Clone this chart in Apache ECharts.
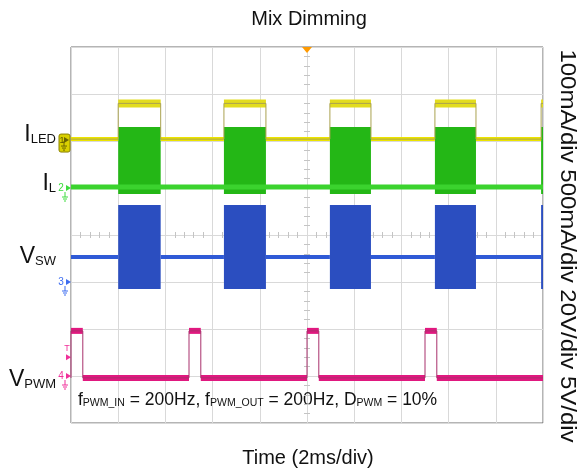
<!DOCTYPE html>
<html>
<head>
<meta charset="utf-8">
<script src="https://cdn.jsdelivr.net/npm/echarts@6.0.0/dist/echarts.min.js"></script>
<style>
html,body{margin:0;padding:0;background:#fff;}
#chart{width:583px;height:473px;}
</style>
</head>
<body>
<div id="chart"></div>
<script>
// ---- data: time in ms relative to trigger (2 ms/div), vertical in divisions from centre ----
const timeRange = [-10, 10];
const divRange = [-4, 4];

// LED-on windows shared by I_LED, I_L and V_SW (ms)
const ledOnStart = [-8.00, -3.52, 0.97, 5.42, 9.92];
const ledOnEnd   = [-6.20, -1.74, 2.71, 7.16, 10.00];

// I_LED levels (div)
const iledLow = 2.04;
const iledHigh = 2.80;
// I_L: baseline and switching-ripple envelope while on (div)
const ilBase = 1.02;
const ilRipple = [0.87, 2.30];
// V_SW: baseline and switching envelope while on (div)
const vswBase = -0.47;
const vswRipple = [-1.15, 0.64];
// V_PWM: on windows (ms) and levels (div)
const pwmOnStart = [-10.00, -5.00, 0.00, 5.00];
const pwmOnEnd   = [-9.50, -4.50, 0.50, 5.50];
const vpwmLow = -3.04;
const vpwmHigh = -2.04;

// channel reference markers (div)
const channelNames = ['1', '2', '3', '4'];
const channelOffsets = [2.02, 1.00, -1.00, -3.00];
const triggerLevel = -2.60;
const triggerTime = 0;

// texts
const titleText = 'Mix Dimming';
const xAxisTitle = 'Time (2ms/div)';
const scaleText = '100mA/div 500mA/div 20V/div 5V/div';
const traceNames = [['I', 'LED'], ['I', 'L'], ['V', 'SW'], ['V', 'PWM']];
const noteText = '{m|f}{s|PWM_IN}{m| = 200Hz, f}{s|PWM_OUT}{m| = 200Hz, D}{s|PWM}{m| = 10%}';

// ---- helpers ----
const FONT = '"Liberation Sans", Arial, Helvetica, sans-serif';

function onSpans(starts, ends) { return starts.map((s, i) => [s, ends[i]]); }
function offSpans(starts, ends) {
  const spans = [];
  let t = timeRange[0];
  for (let i = 0; i < starts.length; i++) {
    if (starts[i] > t) spans.push([t, starts[i]]);
    t = ends[i];
  }
  if (t < timeRange[1]) spans.push([t, timeRange[1]]);
  return spans;
}
function stepPoints(starts, ends, lo, hi) {
  const pts = [];
  if (starts[0] > timeRange[0]) pts.push([timeRange[0], lo]);
  for (let i = 0; i < starts.length; i++) {
    pts.push([starts[i], lo], [starts[i], hi], [ends[i], hi]);
    if (ends[i] < timeRange[1]) pts.push([ends[i], lo]);
  }
  if (ends[ends.length - 1] < timeRange[1]) pts.push([timeRange[1], lo]);
  return pts;
}
function bandSeries(spans, level, thickness, color) {
  return {
    type: 'custom', coordinateSystem: 'cartesian2d', xAxisIndex: 0, yAxisIndex: 0,
    silent: true, animation: false,
    data: spans.map(s => [s[0], s[1], level]),
    encode: { x: [0, 1], y: 2 },
    renderItem(params, api) {
      const a = api.coord([api.value(0), api.value(2)]);
      const b = api.coord([api.value(1), api.value(2)]);
      return { type: 'rect', shape: { x: a[0], y: a[1] - thickness / 2, width: b[0] - a[0], height: thickness }, style: { fill: color } };
    }
  };
}
function blockSeries(spans, lo, hi, color) {
  return {
    type: 'custom', coordinateSystem: 'cartesian2d', xAxisIndex: 0, yAxisIndex: 0,
    silent: true, animation: false,
    data: spans.map(s => [s[0], s[1], lo, hi]),
    encode: { x: [0, 1], y: [2, 3] },
    renderItem(params, api) {
      const a = api.coord([api.value(0), api.value(3)]);
      const b = api.coord([api.value(1), api.value(2)]);
      return { type: 'rect', shape: { x: a[0], y: a[1], width: b[0] - a[0], height: b[1] - a[1] }, style: { fill: color } };
    }
  };
}
function edgeSeries(points, color) {
  return {
    type: 'line', xAxisIndex: 0, yAxisIndex: 0, data: points, symbol: 'none', silent: true,
    animation: false, lineStyle: { width: 1, color: color }
  };
}

const chart = echarts.init(document.getElementById('chart'), null, { renderer: 'canvas', width: 583, height: 473 });
const G = { left: 71, top: 47, width: 472, height: 376 };
const minorTickStyle = { show: true, splitNumber: 5, length: 3, lineStyle: { color: '#c4c4c4', width: 1 } };

function centreX(grid, inside) {
  return { type: 'value', gridIndex: grid, min: timeRange[0], max: timeRange[1], interval: 2,
    axisLine: { show: false, onZero: true }, axisTick: { show: false, inside: inside },
    minorTick: minorTickStyle, axisLabel: { show: false }, splitLine: { show: false } };
}
function centreY(grid, inside) {
  return { type: 'value', gridIndex: grid, min: divRange[0], max: divRange[1], interval: 1,
    axisLine: { show: false, onZero: true }, axisTick: { show: false, inside: inside },
    minorTick: minorTickStyle, axisLabel: { show: false }, splitLine: { show: false } };
}

const option = {
  animation: false,
  backgroundColor: '#ffffff',
  grid: [
    Object.assign({ show: true, borderColor: '#6a6a6a', borderWidth: 1, backgroundColor: 'transparent' }, G),
    Object.assign({}, G),
    Object.assign({}, G)
  ],
  xAxis: [
    { type: 'value', gridIndex: 0, min: timeRange[0], max: timeRange[1], interval: 2,
      axisLine: { show: false, onZero: false }, axisTick: { show: false }, axisLabel: { show: false },
      splitLine: { show: true, lineStyle: { color: '#d9d9d9', width: 1 } } },
    centreX(1, false), centreX(2, true)
  ],
  yAxis: [
    { type: 'value', gridIndex: 0, min: divRange[0], max: divRange[1], interval: 1,
      axisLine: { show: false, onZero: false }, axisTick: { show: false }, axisLabel: { show: false },
      splitLine: { show: true, lineStyle: { color: '#d9d9d9', width: 1 } } },
    centreY(1, false), centreY(2, true)
  ],
  series: [
    // V_SW
    blockSeries(onSpans(ledOnStart, ledOnEnd), vswRipple[0], vswRipple[1], '#2b4ec0'),
    bandSeries(offSpans(ledOnStart, ledOnEnd), vswBase, 4, '#2f5ad6'),
    // I_L
    blockSeries(onSpans(ledOnStart, ledOnEnd), ilRipple[0], ilRipple[1], '#24b716'),
    bandSeries([[timeRange[0], timeRange[1]]], ilBase, 5, '#3bd32e'),
    // I_LED
    edgeSeries(stepPoints(ledOnStart, ledOnEnd, iledLow, iledHigh), '#aaa250'),
    bandSeries(offSpans(ledOnStart, ledOnEnd), iledLow, 4, '#ece400'),
    bandSeries(onSpans(ledOnStart, ledOnEnd), iledHigh, 8, '#e2dc1e'),
    // V_PWM
    edgeSeries(stepPoints(pwmOnStart, pwmOnEnd, vpwmLow, vpwmHigh), '#a8306c'),
    bandSeries(offSpans(pwmOnStart, pwmOnEnd), vpwmLow, 6, '#e0187f'),
    bandSeries(onSpans(pwmOnStart, pwmOnEnd), vpwmHigh, 6, '#e0187f')
  ]
};
chart.setOption(option);

// ---- decorations positioned through the grid's scales ----
const P = (t, v) => chart.convertToPixel({ gridIndex: 0 }, [t, v]);
const x0 = P(timeRange[0], 0)[0];
const gfx = [];

function txt(x, y, text, size, color, align, valign, extra) {
  return Object.assign({ type: 'text', x: x, y: y, silent: true,
    style: { text: text, font: size + 'px ' + FONT, fontSize: size, fontFamily: FONT, fill: color,
      align: align, verticalAlign: valign, textAlign: align, textVerticalAlign: valign } }, extra || {});
}
function ground(x, y, color) {
  return [
    { type: 'line', shape: { x1: x, y1: y, x2: x, y2: y + 5 }, style: { stroke: color, lineWidth: 1 } },
    { type: 'line', shape: { x1: x - 3, y1: y + 5, x2: x + 3, y2: y + 5 }, style: { stroke: color, lineWidth: 1 } },
    { type: 'line', shape: { x1: x - 2, y1: y + 7, x2: x + 2, y2: y + 7 }, style: { stroke: color, lineWidth: 1 } },
    { type: 'line', shape: { x1: x - 1, y1: y + 9, x2: x + 1, y2: y + 9 }, style: { stroke: color, lineWidth: 1 } }
  ];
}
function arrow(x, y, color) {
  return { type: 'polygon', shape: { points: [[x - 5, y - 3], [x, y], [x - 5, y + 3]] }, style: { fill: color } };
}

const chColors = ['#555000', '#3ddc3d', '#3d6df0', '#f0309a'];
channelOffsets.forEach((v, i) => {
  const y = P(timeRange[0], v)[1];
  if (i === 0) {
    gfx.push({ type: 'rect', shape: { x: x0 - 12, y: y - 6, width: 11, height: 18, r: 2 }, style: { fill: '#d9d000', stroke: '#8a8200', lineWidth: 1 } });
    gfx.push(txt(x0 - 9, y, channelNames[i], 9, '#5a5400', 'center', 'middle'));
    gfx.push(arrow(x0 - 2, y, '#6a6400'));
    gfx.push.apply(gfx, ground(x0 - 7, y + 1, '#6a6400'));
  } else {
    gfx.push(txt(x0 - 10, y, channelNames[i], 10, chColors[i], 'center', 'middle'));
    gfx.push(arrow(x0, y, chColors[i]));
    gfx.push.apply(gfx, ground(x0 - 6, y + 4, chColors[i]));
  }
});
// trigger level marker
const ty = P(timeRange[0], triggerLevel)[1];
gfx.push(txt(x0 - 4, ty - 9, 'T', 9, '#f0309a', 'center', 'middle'));
gfx.push(arrow(x0, ty, '#f0309a'));
// trigger time marker (top)
const tp = P(triggerTime, divRange[1]);
gfx.push({ type: 'polygon', shape: { points: [[tp[0] - 5, tp[1]], [tp[0] + 5, tp[1]], [tp[0], tp[1] + 6]] }, style: { fill: '#ff9a00' } });

// trace names
const nameBottoms = [146, 195, 268, 391];
traceNames.forEach((n, i) => {
  gfx.push({ type: 'text', x: 56, y: nameBottoms[i], silent: true,
    style: { text: '{m|' + n[0] + '}{s|' + n[1] + '}', align: 'right', verticalAlign: 'bottom',
      textAlign: 'right', textVerticalAlign: 'bottom', fill: '#111',
      rich: { m: { fontSize: 23, fontFamily: FONT, fill: '#111' }, s: { fontSize: 13, fontFamily: FONT, fill: '#111', verticalAlign: 'bottom' } } } });
});
// note
gfx.push({ type: 'text', x: 78, y: 409, silent: true,
  style: { text: noteText, align: 'left', verticalAlign: 'bottom', textAlign: 'left', textVerticalAlign: 'bottom', fill: '#111',
    rich: { m: { fontSize: 17.5, fontFamily: FONT, fill: '#111' }, s: { fontSize: 10.5, fontFamily: FONT, fill: '#111', verticalAlign: 'bottom' } } } });
// title, axis title, scale text
gfx.push(txt(309, 19, titleText, 20, '#111', 'center', 'middle'));
gfx.push(txt(308, 458, xAxisTitle, 20, '#111', 'center', 'middle'));
gfx.push(txt(567, 246, scaleText, 22, '#111', 'center', 'middle', { rotation: -Math.PI / 2, scaleX: 1.09 }));

chart.setOption({ graphic: { elements: gfx } });
</script>
</body>
</html>
